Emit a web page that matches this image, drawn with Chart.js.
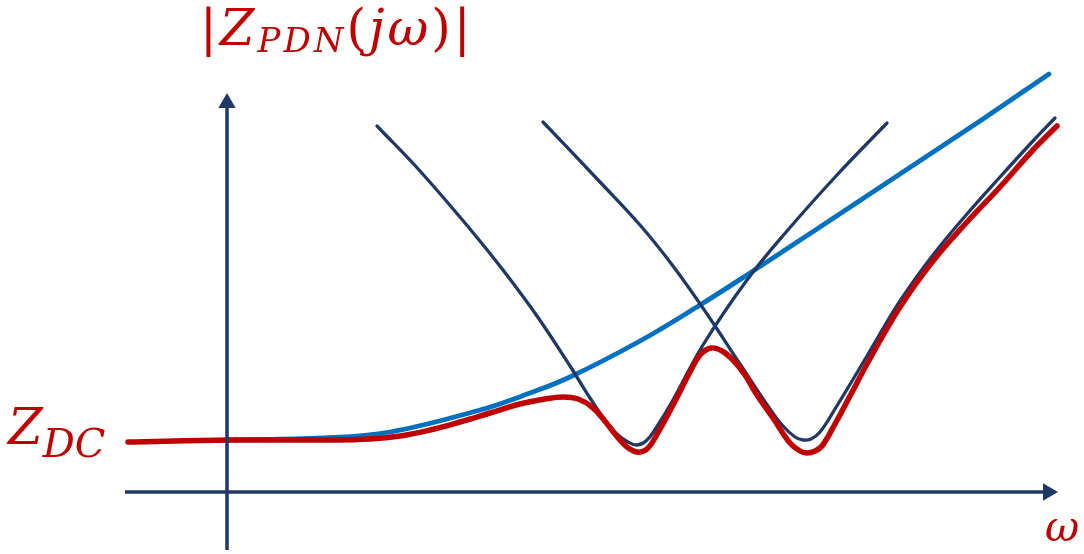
<!DOCTYPE html>
<html>
<head>
<meta charset="utf-8">
<script src="https://cdn.jsdelivr.net/npm/chart.js@4.4.1/dist/chart.umd.min.js"></script>
<style>
    body { margin: 0; background: #fff; }
    #wrap { position: relative; width: 1084px; height: 554px; }
    .lbl {
        position: absolute;
        white-space: nowrap;
        color: #c00000;
        font-family: "DejaVu Serif", serif;
        line-height: 1;
    }
    .lbl i { font-style: italic; }
</style>
</head>
<body>
<div id="wrap">
    <canvas id="pdnChart"></canvas>
    <div class="lbl" style="left:200px; top:3px; font-size:50px; letter-spacing:3px;">|<i>Z</i><span style="font-size:34px; position:relative; top:7px;"><i>PDN</i></span>(<i>jω</i>)|</div>
    <div class="lbl" style="left:8px; top:402px; font-size:50px;"><i>Z</i><span style="font-size:40px; position:relative; top:13px;"><i>DC</i></span></div>
    <div class="lbl" style="left:1045px; top:506px; font-size:42px;"><i>ω</i></div>
</div>
<script>
// total PDN impedance (red)
const redOmega = [-0.99, 0.03, 1.03, 1.43, 1.73, 2.03, 2.33, 2.63, 2.93, 3.18, 3.36, 3.51, 3.65, 3.77, 3.88, 3.99, 4.10, 4.20, 4.29, 4.46, 4.63, 4.73, 4.84, 4.95, 5.06, 5.18, 5.30, 5.46, 5.63, 5.73, 5.80, 5.88, 5.95, 6.08, 6.23, 6.40, 6.73, 7.06, 7.40, 7.73, 8.06, 8.30];
const redZ = [0.50, 0.52, 0.52, 0.53, 0.56, 0.62, 0.70, 0.79, 0.88, 0.93, 0.95, 0.93, 0.85, 0.72, 0.58, 0.46, 0.40, 0.43, 0.56, 0.87, 1.20, 1.37, 1.44, 1.41, 1.32, 1.17, 0.97, 0.74, 0.49, 0.41, 0.39, 0.41, 0.46, 0.68, 0.96, 1.28, 1.85, 2.31, 2.70, 3.05, 3.42, 3.66];

// VRM / inductive part (light blue)
const blueOmega = [0.00, 0.96, 1.63, 2.53, 3.03, 3.43, 4.13, 4.73, 5.23, 5.93, 6.73, 7.56, 8.22];
const blueZ = [0.52, 0.54, 0.60, 0.82, 0.99, 1.15, 1.51, 1.87, 2.19, 2.65, 3.18, 3.73, 4.18];

// decoupling capacitor 1 (navy)
const cap1Omega = [1.50, 1.93, 2.43, 2.76, 3.10, 3.43, 3.63, 3.78, 3.91, 4.01, 4.10, 4.19, 4.29, 4.46, 4.76, 5.20, 5.60, 6.10, 6.60];
const cap1Z = [3.66, 3.21, 2.63, 2.22, 1.76, 1.26, 0.94, 0.72, 0.57, 0.50, 0.47, 0.51, 0.64, 0.92, 1.47, 2.12, 2.61, 3.17, 3.69];

// decoupling capacitor 2 (navy)
const cap2Omega = [3.16, 3.73, 4.13, 4.46, 4.80, 5.13, 5.43, 5.56, 5.68, 5.76, 5.84, 5.93, 6.08, 6.40, 6.73, 7.06, 7.40, 7.73, 8.06, 8.28];
const cap2Z = [3.70, 3.10, 2.67, 2.26, 1.78, 1.28, 0.83, 0.66, 0.55, 0.52, 0.53, 0.60, 0.83, 1.36, 1.91, 2.37, 2.78, 3.15, 3.51, 3.74];

// axis extents (last point carries the arrow head)
const omegaAxisRange = [-1.02, 8.21];
const zAxisRange = [-0.58, 3.89];

const zip = (xs, ys) => xs.map((x, i) => ({ x: x, y: ys[i] }));

const navy = '#203864';

const curve = (data, color, width) => ({
    data: data,
    borderColor: color,
    borderWidth: width,
    borderCapStyle: 'round',
    borderJoinStyle: 'round',
    pointRadius: 0,
    tension: 0.4,
    fill: false
});

const arrow = (data, rot) => ({
    data: data,
    borderColor: navy,
    borderWidth: 3.5,
    pointRadius: [0, 10],
    pointStyle: 'triangle',
    rotation: rot,
    pointBackgroundColor: navy,
    pointBorderWidth: 0,
    tension: 0,
    fill: false
});

const datasets = [
    arrow([{ x: 0, y: zAxisRange[0] }, { x: 0, y: zAxisRange[1] }], 0),
    arrow([{ x: omegaAxisRange[0], y: 0 }, { x: omegaAxisRange[1], y: 0 }], 90),
    curve(zip(redOmega, redZ), '#c00000', 5.5),
    curve(zip(cap1Omega, cap1Z), navy, 3.3),
    curve(zip(cap2Omega, cap2Z), navy, 3.3),
    curve(zip(blueOmega, blueZ), '#0070c0', 4.8)
];

const ctx = document.getElementById('pdnChart').getContext('2d');
new Chart(ctx, {
    type: 'line',
    data: { datasets: datasets },
    options: {
        responsive: true,
        maintainAspectRatio: false,
        animation: false,
        events: [],
        layout: { padding: 0, autoPadding: false },
        scales: {
            x: { type: 'linear', min: -2.27, max: 8.57, display: false },
            y: { type: 'linear', min: -0.62, max: 4.92, display: false }
        },
        plugins: {
            legend: { display: false },
            tooltip: { enabled: false }
        }
    }
});
</script>
</body>
</html>
